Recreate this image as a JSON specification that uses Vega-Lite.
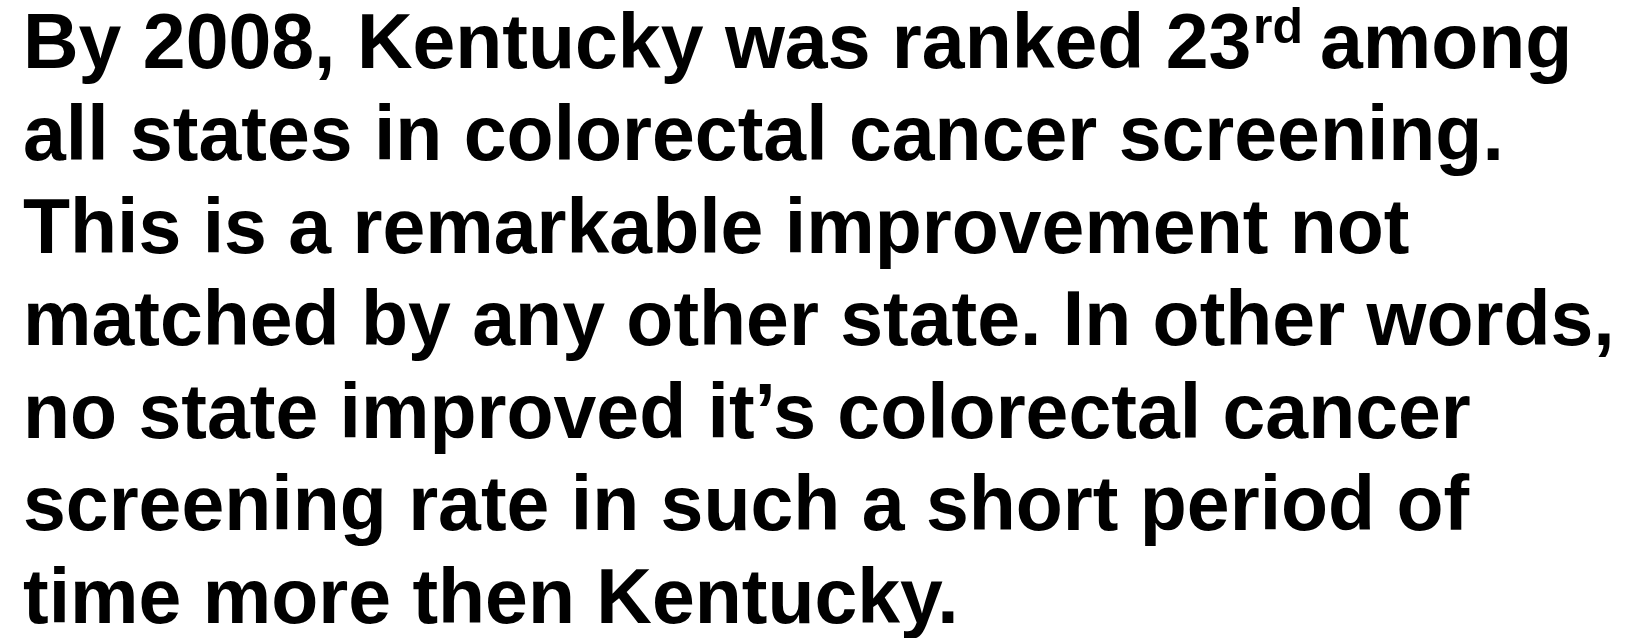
{
  "$schema": "https://vega.github.io/schema/vega-lite/v6.json",
  "width": 1627,
  "height": 638,
  "autosize": {"type": "fit", "contains": "padding"},
  "padding": {"left": 23, "top": 0, "right": 0, "bottom": 0},
  "background": "white",
  "config": {"view": {"stroke": null}},
  "data": {
    "values": [
      {"line": 1, "part": "main", "text": "By 2008, Kentucky was ranked 23"},
      {"line": 1, "part": "sup", "text": "rd"},
      {"line": 1, "part": "after", "text": "among"},
      {"line": 2, "part": "main", "text": "all states in colorectal cancer screening."},
      {"line": 3, "part": "main", "text": "This is a remarkable improvement not"},
      {"line": 4, "part": "main", "text": "matched by any other state. In other words,"},
      {"line": 5, "part": "main", "text": "no state improved it’s colorectal cancer"},
      {"line": 6, "part": "main", "text": "screening rate in such a short period of"},
      {"line": 7, "part": "main", "text": "time more then Kentucky."}
    ]
  },
  "encoding": {
    "y": {"field": "line", "type": "quantitative", "axis": null, "scale": {"domain": [0.2657, 7.1555], "reverse": true, "nice": false, "zero": false}},
    "x": {"value": 0},
    "text": {"field": "text"}
  },
  "layer": [
    {
      "transform": [{"filter": "datum.part === 'main'"}],
      "mark": {"type": "text", "align": "left", "baseline": "alphabetic", "font": "Liberation Sans", "fontWeight": "bold", "fontSize": 77, "color": "black"}
    },
    {
      "transform": [{"filter": "datum.part === 'sup'"}],
      "mark": {"type": "text", "align": "left", "baseline": "alphabetic", "font": "Liberation Sans", "fontWeight": "bold", "fontSize": 50, "color": "black", "dx": 1230, "dy": -25}
    },
    {
      "transform": [{"filter": "datum.part === 'after'"}],
      "mark": {"type": "text", "align": "left", "baseline": "alphabetic", "font": "Liberation Sans", "fontWeight": "bold", "fontSize": 77, "color": "black", "dx": 1297}
    }
  ]
}
